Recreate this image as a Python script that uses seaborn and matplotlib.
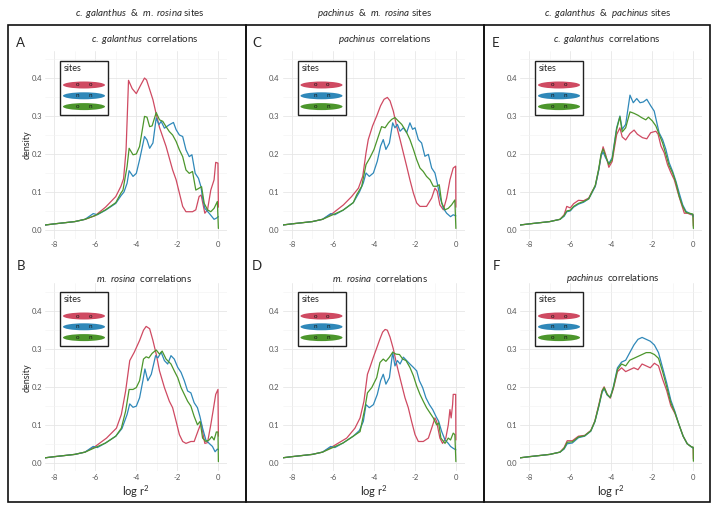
import matplotlib
matplotlib.use("Agg")
import matplotlib.pyplot as plt
from matplotlib.patches import Rectangle, Ellipse
import pandas as pd
import seaborn as sns

sns.set_style("white")
plt.rcParams['font.family'] = ['Lato', 'DejaVu Sans']
plt.rcParams['mathtext.fontset'] = 'custom'
plt.rcParams['mathtext.it'] = 'Lato:italic'
plt.rcParams['mathtext.rm'] = 'Lato'

# ---- data: (log r^2, density) ----
sites = ["o  o", "n  n", "o  n"]
site_colors = ["#cf4a62", "#2f88b9", "#4c962c"]

base = [(-8.45, 0.013), (-8.0, 0.016), (-7.5, 0.019), (-7.0, 0.022), (-6.5, 0.028)]

a_oo = [(-6.0, 0.038), (-5.5, 0.060), (-5.0, 0.088), (-4.75, 0.115), (-4.62, 0.135), (-4.5, 0.21),
        (-4.44, 0.30), (-4.38, 0.394), (-4.2, 0.372), (-4.0, 0.359), (-3.8, 0.38), (-3.6, 0.40),
        (-3.5, 0.395), (-3.35, 0.37), (-3.19, 0.343), (-3.03, 0.305), (-2.87, 0.27), (-2.55, 0.22),
        (-2.23, 0.158), (-2.06, 0.132), (-1.9, 0.097), (-1.74, 0.062), (-1.58, 0.048), (-1.26, 0.048),
        (-1.1, 0.053), (-0.94, 0.088), (-0.84, 0.092), (-0.66, 0.044), (-0.53, 0.053), (-0.37, 0.105),
        (-0.21, 0.132), (-0.13, 0.178), (-0.02, 0.176), (0.0, 0.06)]
a_nn = [(-6.1, 0.043), (-5.9, 0.040), (-5.5, 0.052), (-5.0, 0.07), (-4.75, 0.09), (-4.6, 0.1),
        (-4.45, 0.123), (-4.35, 0.156), (-4.16, 0.141), (-4.0, 0.149), (-3.84, 0.185), (-3.6, 0.246),
        (-3.48, 0.237), (-3.35, 0.215), (-3.19, 0.229), (-3.03, 0.295), (-2.9, 0.277), (-2.79, 0.286),
        (-2.63, 0.268), (-2.39, 0.277), (-2.19, 0.283), (-2.06, 0.264), (-1.9, 0.25), (-1.74, 0.246),
        (-1.58, 0.211), (-1.42, 0.193), (-1.29, 0.198), (-1.13, 0.149), (-0.97, 0.136), (-0.85, 0.114),
        (-0.77, 0.084), (-0.66, 0.057), (-0.45, 0.044), (-0.21, 0.028), (-0.1, 0.031), (0.0, 0.035)]
a_on = [(-6.0, 0.038), (-5.5, 0.053), (-5.0, 0.072), (-4.75, 0.097), (-4.65, 0.105), (-4.45, 0.167),
        (-4.35, 0.215), (-4.16, 0.198), (-4.0, 0.2), (-3.84, 0.22), (-3.6, 0.299), (-3.48, 0.297),
        (-3.35, 0.272), (-3.23, 0.274), (-3.03, 0.309), (-2.87, 0.29), (-2.71, 0.286), (-2.55, 0.272),
        (-2.39, 0.259), (-2.23, 0.25), (-2.06, 0.233), (-1.9, 0.211), (-1.74, 0.193), (-1.58, 0.158),
        (-1.42, 0.149), (-1.26, 0.154), (-1.1, 0.105), (-0.94, 0.11), (-0.82, 0.114), (-0.69, 0.07),
        (-0.53, 0.053), (-0.37, 0.048), (-0.21, 0.057), (-0.05, 0.075), (0.0, 0.004)]

b_oo = [(-6.0, 0.043), (-5.45, 0.065), (-4.97, 0.091), (-4.73, 0.127), (-4.52, 0.189), (-4.32, 0.269),
        (-4.1, 0.291), (-3.84, 0.322), (-3.65, 0.349), (-3.52, 0.359), (-3.35, 0.353), (-3.19, 0.322),
        (-3.03, 0.286), (-2.87, 0.242), (-2.63, 0.198), (-2.39, 0.162), (-2.23, 0.145), (-2.06, 0.109),
        (-1.9, 0.074), (-1.74, 0.056), (-1.58, 0.051), (-1.34, 0.056), (-1.18, 0.056), (-0.97, 0.087),
        (-0.84, 0.105), (-0.77, 0.082), (-0.66, 0.051), (-0.53, 0.053), (-0.37, 0.1), (-0.26, 0.136),
        (-0.13, 0.18), (-0.02, 0.193), (0.0, 0.07)]
b_nn = [(-6.1, 0.043), (-5.9, 0.04), (-5.5, 0.052), (-5.0, 0.07), (-4.7, 0.09), (-4.45, 0.127),
        (-4.32, 0.155), (-4.16, 0.146), (-4.0, 0.149), (-3.84, 0.171), (-3.68, 0.216), (-3.58, 0.247),
        (-3.44, 0.216), (-3.27, 0.233), (-3.06, 0.282), (-2.95, 0.276), (-2.79, 0.291), (-2.63, 0.269),
        (-2.47, 0.26), (-2.31, 0.282), (-2.15, 0.273), (-1.98, 0.251), (-1.82, 0.238), (-1.66, 0.216),
        (-1.5, 0.189), (-1.34, 0.184), (-1.18, 0.158), (-1.02, 0.145), (-0.9, 0.122), (-0.77, 0.091),
        (-0.61, 0.06), (-0.45, 0.051), (-0.29, 0.043), (-0.16, 0.029), (-0.05, 0.036), (0.0, 0.034)]
b_on = [(-6.0, 0.04), (-5.5, 0.052), (-5.0, 0.07), (-4.73, 0.091), (-4.52, 0.136), (-4.35, 0.193),
        (-4.16, 0.193), (-4.0, 0.198), (-3.84, 0.216), (-3.65, 0.273), (-3.52, 0.279), (-3.39, 0.276),
        (-3.23, 0.288), (-3.03, 0.297), (-2.87, 0.286), (-2.74, 0.294), (-2.55, 0.273), (-2.31, 0.26),
        (-2.15, 0.242), (-1.98, 0.224), (-1.82, 0.198), (-1.66, 0.18), (-1.5, 0.162), (-1.34, 0.149),
        (-1.18, 0.122), (-1.02, 0.1), (-0.89, 0.109), (-0.77, 0.065), (-0.61, 0.056), (-0.45, 0.06),
        (-0.32, 0.069), (-0.21, 0.06), (-0.1, 0.081), (-0.02, 0.081), (0.0, 0.003)]

c_oo = [(-6.0, 0.044), (-5.48, 0.066), (-5.08, 0.088), (-4.75, 0.11), (-4.54, 0.141), (-4.38, 0.203),
        (-4.27, 0.238), (-4.06, 0.274), (-3.86, 0.3), (-3.67, 0.327), (-3.5, 0.344), (-3.34, 0.349),
        (-3.21, 0.34), (-3.05, 0.313), (-2.89, 0.274), (-2.72, 0.238), (-2.56, 0.203), (-2.4, 0.168),
        (-2.24, 0.132), (-2.07, 0.097), (-1.91, 0.071), (-1.75, 0.062), (-1.43, 0.062), (-1.18, 0.084),
        (-1.02, 0.11), (-0.91, 0.102), (-0.78, 0.066), (-0.61, 0.053), (-0.45, 0.084), (-0.29, 0.132),
        (-0.13, 0.163), (-0.01, 0.168), (0.0, 0.06)]
c_nn = [(-6.1, 0.043), (-5.9, 0.04), (-5.5, 0.052), (-5.0, 0.072), (-4.7, 0.1), (-4.51, 0.124),
        (-4.38, 0.15), (-4.22, 0.141), (-4.02, 0.15), (-3.83, 0.181), (-3.67, 0.221), (-3.54, 0.238),
        (-3.41, 0.212), (-3.24, 0.229), (-3.08, 0.282), (-2.97, 0.269), (-2.85, 0.278), (-2.72, 0.26),
        (-2.56, 0.269), (-2.4, 0.256), (-2.24, 0.282), (-2.11, 0.265), (-1.99, 0.269), (-1.83, 0.238),
        (-1.67, 0.229), (-1.51, 0.194), (-1.34, 0.199), (-1.18, 0.163), (-1.02, 0.15), (-0.91, 0.124),
        (-0.78, 0.088), (-0.61, 0.057), (-0.45, 0.044), (-0.26, 0.035), (-0.13, 0.04), (0.0, 0.037)]
c_on = [(-6.0, 0.04), (-5.5, 0.052), (-5.0, 0.072), (-4.83, 0.093), (-4.59, 0.115), (-4.38, 0.172),
        (-4.19, 0.19), (-3.99, 0.212), (-3.83, 0.238), (-3.62, 0.272), (-3.45, 0.269), (-3.29, 0.282),
        (-3.13, 0.291), (-2.97, 0.296), (-2.81, 0.287), (-2.64, 0.278), (-2.43, 0.26), (-2.24, 0.238),
        (-2.07, 0.212), (-1.91, 0.185), (-1.75, 0.163), (-1.59, 0.154), (-1.43, 0.141), (-1.26, 0.132),
        (-1.1, 0.115), (-0.94, 0.115), (-0.81, 0.119), (-0.69, 0.071), (-0.53, 0.053), (-0.37, 0.057),
        (-0.21, 0.066), (-0.05, 0.079), (0.0, 0.004)]

d_oo = [(-6.0, 0.043), (-5.32, 0.065), (-4.92, 0.091), (-4.67, 0.118), (-4.48, 0.162), (-4.31, 0.233),
        (-4.19, 0.251), (-4.02, 0.278), (-3.86, 0.302), (-3.7, 0.326), (-3.57, 0.344), (-3.45, 0.351),
        (-3.34, 0.349), (-3.21, 0.331), (-3.05, 0.3), (-2.89, 0.26), (-2.69, 0.216), (-2.48, 0.171),
        (-2.32, 0.145), (-2.16, 0.109), (-1.99, 0.074), (-1.83, 0.056), (-1.59, 0.056), (-1.34, 0.065),
        (-1.18, 0.091), (-1.02, 0.118), (-0.94, 0.109), (-0.78, 0.065), (-0.65, 0.051), (-0.49, 0.065),
        (-0.37, 0.1), (-0.29, 0.14), (-0.23, 0.118), (-0.16, 0.153), (-0.13, 0.18), (-0.01, 0.18),
        (0.0, 0.06)]
d_nn = [(-6.1, 0.043), (-5.9, 0.04), (-5.5, 0.052), (-5.0, 0.07), (-4.7, 0.085), (-4.51, 0.109),
        (-4.38, 0.153), (-4.22, 0.145), (-4.02, 0.153), (-3.83, 0.18), (-3.67, 0.216), (-3.54, 0.233),
        (-3.41, 0.207), (-3.24, 0.224), (-3.08, 0.291), (-2.97, 0.255), (-2.85, 0.269), (-2.72, 0.26),
        (-2.56, 0.278), (-2.4, 0.269), (-2.24, 0.26), (-2.07, 0.251), (-1.91, 0.242), (-1.78, 0.216),
        (-1.62, 0.198), (-1.46, 0.171), (-1.29, 0.153), (-1.13, 0.14), (-0.97, 0.122), (-0.84, 0.109),
        (-0.69, 0.082), (-0.53, 0.06), (-0.37, 0.051), (-0.26, 0.043), (-0.13, 0.038), (0.0, 0.034)]
d_on = [(-6.0, 0.04), (-5.5, 0.052), (-5.0, 0.07), (-4.67, 0.082), (-4.43, 0.145), (-4.31, 0.184),
        (-4.1, 0.198), (-3.86, 0.224), (-3.7, 0.264), (-3.54, 0.273), (-3.41, 0.267), (-3.24, 0.278),
        (-3.08, 0.291), (-2.92, 0.286), (-2.75, 0.285), (-2.59, 0.273), (-2.43, 0.269), (-2.24, 0.251),
        (-2.07, 0.229), (-1.91, 0.202), (-1.75, 0.18), (-1.59, 0.162), (-1.43, 0.145), (-1.26, 0.131),
        (-1.1, 0.118), (-0.94, 0.1), (-0.84, 0.105), (-0.73, 0.065), (-0.53, 0.051), (-0.37, 0.065),
        (-0.26, 0.06), (-0.13, 0.078), (-0.05, 0.074), (0.0, 0.003)]

e_oo = [(-6.3, 0.04), (-6.17, 0.062), (-6.0, 0.058), (-5.84, 0.069), (-5.6, 0.078), (-5.35, 0.077),
        (-5.1, 0.084), (-4.94, 0.101), (-4.78, 0.115), (-4.61, 0.159), (-4.5, 0.194), (-4.4, 0.219),
        (-4.28, 0.199), (-4.12, 0.165), (-3.96, 0.18), (-3.74, 0.251), (-3.58, 0.269), (-3.47, 0.245),
        (-3.3, 0.237), (-3.09, 0.254), (-2.89, 0.263), (-2.73, 0.252), (-2.48, 0.243), (-2.27, 0.24),
        (-2.08, 0.256), (-1.83, 0.26), (-1.72, 0.252), (-1.58, 0.221), (-1.42, 0.203), (-1.26, 0.172),
        (-1.09, 0.15), (-0.93, 0.132), (-0.77, 0.101), (-0.6, 0.071), (-0.44, 0.044), (-0.28, 0.044),
        (-0.11, 0.04), (-0.01, 0.04), (0.0, 0.01)]
e_nn = [(-6.3, 0.036), (-6.17, 0.048), (-6.0, 0.05), (-5.84, 0.06), (-5.6, 0.068), (-5.35, 0.073),
        (-5.1, 0.082), (-4.94, 0.098), (-4.78, 0.115), (-4.61, 0.158), (-4.5, 0.195), (-4.4, 0.205),
        (-4.28, 0.19), (-4.12, 0.175), (-3.96, 0.19), (-3.74, 0.269), (-3.58, 0.3), (-3.47, 0.265),
        (-3.3, 0.278), (-3.09, 0.355), (-2.93, 0.335), (-2.76, 0.346), (-2.6, 0.335), (-2.44, 0.337),
        (-2.27, 0.344), (-2.08, 0.327), (-1.91, 0.313), (-1.78, 0.282), (-1.67, 0.256), (-1.5, 0.238),
        (-1.34, 0.212), (-1.18, 0.177), (-1.01, 0.154), (-0.85, 0.128), (-0.69, 0.097), (-0.52, 0.066),
        (-0.36, 0.049), (-0.2, 0.044), (-0.03, 0.04), (0.0, 0.035)]
e_on = [(-6.3, 0.038), (-6.17, 0.05), (-6.0, 0.052), (-5.84, 0.062), (-5.6, 0.07), (-5.35, 0.075),
        (-5.1, 0.082), (-4.94, 0.1), (-4.78, 0.118), (-4.61, 0.162), (-4.5, 0.2), (-4.4, 0.213),
        (-4.28, 0.195), (-4.12, 0.172), (-3.96, 0.185), (-3.74, 0.265), (-3.58, 0.298), (-3.47, 0.258),
        (-3.3, 0.269), (-3.09, 0.311), (-2.89, 0.307), (-2.7, 0.302), (-2.53, 0.296), (-2.32, 0.29),
        (-2.19, 0.297), (-2.0, 0.287), (-1.83, 0.274), (-1.67, 0.252), (-1.5, 0.229), (-1.34, 0.199),
        (-1.18, 0.169), (-1.01, 0.15), (-0.85, 0.124), (-0.69, 0.088), (-0.52, 0.062), (-0.36, 0.046),
        (-0.2, 0.044), (-0.03, 0.042), (0.0, 0.004)]

f_oo = [(-6.3, 0.04), (-6.15, 0.058), (-5.9, 0.058), (-5.6, 0.07), (-5.3, 0.072), (-5.0, 0.085),
        (-4.8, 0.11), (-4.6, 0.155), (-4.45, 0.19), (-4.35, 0.2), (-4.2, 0.18), (-4.05, 0.17),
        (-3.9, 0.195), (-3.7, 0.24), (-3.5, 0.25), (-3.3, 0.24), (-3.1, 0.245), (-2.9, 0.25),
        (-2.7, 0.245), (-2.5, 0.26), (-2.3, 0.255), (-2.1, 0.25), (-1.9, 0.262), (-1.7, 0.255),
        (-1.5, 0.22), (-1.3, 0.19), (-1.1, 0.15), (-0.9, 0.13), (-0.7, 0.1), (-0.5, 0.07),
        (-0.3, 0.05), (-0.1, 0.042), (-0.01, 0.04), (0.0, 0.01)]
f_nn = [(-6.3, 0.036), (-6.15, 0.05), (-5.9, 0.052), (-5.6, 0.066), (-5.3, 0.07), (-5.0, 0.083),
        (-4.8, 0.108), (-4.6, 0.15), (-4.45, 0.185), (-4.35, 0.195), (-4.2, 0.178), (-4.05, 0.172),
        (-3.9, 0.2), (-3.7, 0.25), (-3.5, 0.265), (-3.3, 0.27), (-3.1, 0.29), (-2.9, 0.31),
        (-2.7, 0.325), (-2.5, 0.33), (-2.3, 0.325), (-2.1, 0.32), (-1.9, 0.31), (-1.7, 0.29),
        (-1.5, 0.25), (-1.3, 0.21), (-1.1, 0.165), (-0.9, 0.135), (-0.7, 0.1), (-0.5, 0.07),
        (-0.3, 0.05), (-0.1, 0.042), (0.0, 0.038)]
f_on = [(-6.3, 0.038), (-6.15, 0.054), (-5.9, 0.055), (-5.6, 0.068), (-5.3, 0.071), (-5.0, 0.084),
        (-4.8, 0.109), (-4.6, 0.152), (-4.45, 0.188), (-4.35, 0.198), (-4.2, 0.18), (-4.05, 0.172),
        (-3.9, 0.198), (-3.7, 0.245), (-3.5, 0.26), (-3.3, 0.255), (-3.1, 0.27), (-2.9, 0.275),
        (-2.7, 0.28), (-2.5, 0.285), (-2.3, 0.29), (-2.1, 0.29), (-1.9, 0.285), (-1.7, 0.275),
        (-1.5, 0.24), (-1.3, 0.2), (-1.1, 0.158), (-0.9, 0.132), (-0.7, 0.1), (-0.5, 0.07),
        (-0.3, 0.05), (-0.1, 0.042), (-0.01, 0.041), (0.0, 0.004)]

col_titles = [r"$\mathit{c.\ galanthus}$  &  $\mathit{m.\ rosina}$ sites",
              r"$\mathit{pachinus}$  &  $\mathit{m.\ rosina}$ sites",
              r"$\mathit{c.\ galanthus}$  &  $\mathit{pachinus}$ sites"]
panel_titles = {"A": r"$\mathit{c.\ galanthus}$  correlations",
                "B": r"$\mathit{m.\ rosina}$  correlations",
                "C": r"$\mathit{pachinus}$  correlations",
                "D": r"$\mathit{m.\ rosina}$  correlations",
                "E": r"$\mathit{c.\ galanthus}$  correlations",
                "F": r"$\mathit{pachinus}$  correlations"}
panel_curves = {"A": (a_oo, a_nn, a_on), "B": (b_oo, b_nn, b_on),
                "C": (c_oo, c_nn, c_on), "D": (d_oo, d_nn, d_on),
                "E": (e_oo, e_nn, e_on), "F": (f_oo, f_nn, f_on)}

W, H = 720, 513
fig = plt.figure(figsize=(W / 100, H / 100), dpi=100)


def fx(px):
    return px / W


def fy(py):
    return 1 - py / H


# layout in pixels
col_left = [45, 282.5, 520]
ax_w = 182
row_top = [50.5, 283.3]
ax_h = 188
title_x = {"A": 145, "B": 144, "C": 385, "D": 380, "E": 607, "F": 613}
title_y = [40, 278.5]
letter_x = [20.5, 257, 496]
letter_y = [43, 266]
col_title_x = [140, 375, 608]

palette = dict(zip(sites, site_colors))

for ci, letters in enumerate([("A", "B"), ("C", "D"), ("E", "F")]):
    for ri, letter in enumerate(letters):
        ax = fig.add_axes([fx(col_left[ci]), fy(row_top[ri] + ax_h), ax_w / W, ax_h / H])
        rows = []
        for site, pts in zip(sites, panel_curves[letter]):
            for x, y in base + pts:
                rows.append((x, y, site))
        df = pd.DataFrame(rows, columns=["log_r2", "density", "sites"])
        sns.lineplot(data=df, x="log_r2", y="density", hue="sites", hue_order=sites,
                     palette=palette, estimator=None, sort=False, linewidth=0.9,
                     legend=False, ax=ax)
        ax.set_xlim(-8.45, 0.42)
        ax.set_ylim(-0.0225, 0.4725)
        ax.set_xticks([-8, -6, -4, -2, 0])
        ax.set_xticklabels(["-8", "-6", "-4", "-2", "0"])
        ax.set_yticks([0, 0.1, 0.2, 0.3, 0.4])
        ax.set_yticklabels(["0.0", "0.1", "0.2", "0.3", "0.4"])
        ax.set_xticks([-7, -5, -3, -1], minor=True)
        ax.set_yticks([0.05, 0.15, 0.25, 0.35, 0.45], minor=True)
        ax.tick_params(which="both", length=0, labelsize=5.5, labelcolor="#555555")
        ax.tick_params(axis="x", pad=2)
        ax.tick_params(axis="y", pad=2)
        ax.grid(True, which="major", color="#e6e6e6", linewidth=0.6)
        ax.grid(True, which="minor", color="#f2f2f2", linewidth=0.4)
        ax.set_axisbelow(True)
        for s in ax.spines.values():
            s.set_visible(False)
        ax.set_xlabel("log r$^2$" if ri == 1 else "", fontsize=8)
        ax.xaxis.set_label_coords(0.5, -0.065)
        ax.set_ylabel("density" if ci == 0 else "", fontsize=6.5)
        ax.yaxis.set_label_coords(-0.075, 0.5)

        fig.text(fx(title_x[letter]), fy(title_y[ri]), panel_titles[letter],
                 ha="center", va="center", fontsize=7)
        fig.text(fx(letter_x[ci]), fy(letter_y[ri]), letter, ha="center", va="center", fontsize=9.5)

        # legend box with ellipse keys
        lx = col_left[ci] + 15
        ly = 61 if ri == 0 else 292
        fig.add_artist(Rectangle((fx(lx), fy(ly + 54)), 48 / W, 54 / H, transform=fig.transFigure,
                                 fill=True, facecolor="white", edgecolor="#222222", linewidth=1.0))
        fig.text(fx(lx + 4), fy(ly + 7.5), "sites", ha="left", va="center", fontsize=6.5)
        for k, site in enumerate(sites):
            cy = ly + 24 + k * 10.8
            fig.add_artist(Ellipse((fx(lx + 24), fy(cy)), 42 / W, 7 / H, transform=fig.transFigure,
                                   facecolor=palette[site], edgecolor="none"))
            a, b = site.split()
            fig.text(fx(lx + 17.5), fy(cy), a, ha="center", va="center", fontsize=4.5, color="#1a1a1a")
            fig.text(fx(lx + 30.5), fy(cy), b, ha="center", va="center", fontsize=4.5, color="#1a1a1a")

    fig.text(fx(col_title_x[ci]), fy(13), col_titles[ci], ha="center", va="center", fontsize=7)

# column frames
for left, right in [(8, 246), (246, 484), (484, 710)]:
    fig.add_artist(Rectangle((fx(left), fy(502)), (right - left) / W, (502 - 25) / H,
                             transform=fig.transFigure, fill=False, edgecolor="#111111",
                             linewidth=1.2))

fig.savefig("out.png", dpi=100)
